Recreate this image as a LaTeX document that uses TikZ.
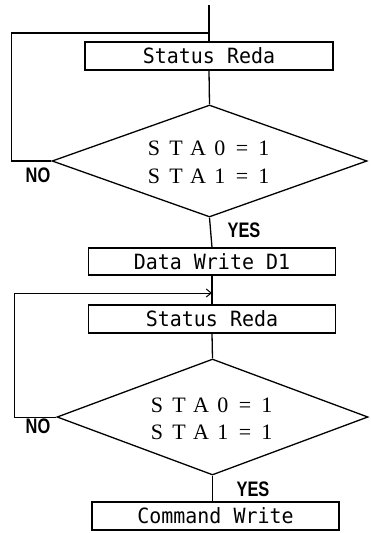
\documentclass[tikz,border=0pt]{standalone}
\usepackage{fontspec}
\usetikzlibrary{shapes.geometric,arrows.meta}
\newfontfamily\boxfont[FakeStretch=0.95]{DejaVu Sans Mono}
\newfontfamily\yesfont[FakeStretch=0.78]{Liberation Sans Bold}
\setmainfont{Liberation Serif}
\newcommand{\stach}[1]{\makebox[22pt]{#1}}
\begin{document}
\begin{tikzpicture}[x=1pt,y=-1pt,
  line width=1.3pt,
  procbox/.style={draw,rectangle,inner sep=0pt,minimum width=247pt,minimum height=27pt,
     font=\boxfont\fontsize{21}{23}\selectfont},
  decbox/.style={draw,diamond,inner sep=0pt},
  sta/.style={font=\fontsize{22}{24}\selectfont,inner sep=0pt},
  yn/.style={font=\yesfont\fontsize{21}{23}\selectfont,inner sep=0pt}]
\useasboundingbox (0,0) rectangle (370,533);
% first block
\coordinate (start) at (209,5);
\node[procbox,minimum width=248pt,minimum height=28pt] (b1) at (209,56) {Status Reda};
\node[decbox,minimum width=315pt,minimum height=112pt] (d1) at (209.5,161) {};
\node[sta] (t1a) at (209,148) {\stach{S}\stach{T}\stach{A}\stach{0}\stach{=}\stach{1}};
\node[sta] (t1b) at (209,176) {\stach{S}\stach{T}\stach{A}\stach{1}\stach{=}\stach{1}};
\coordinate (j1) at (209,33);
\draw (start) -- (b1.north);
\draw (b1.south) -- (d1.north);
\draw (d1.west) -- ++(-40,0) |- (j1);
\node[yn] (no1) at (38,175) {NO};
\node[yn] (yes1) at (244,230) {YES};
% second block
\node[procbox] (b2) at (212,261.5) {Data Write D1};
\node[procbox,minimum height=28pt] (b3) at (212,319) {Status Reda};
\node[decbox,minimum width=311pt,minimum height=116pt] (d2) at (212.5,417) {};
\node[sta] (t2a) at (212,405) {\stach{S}\stach{T}\stach{A}\stach{0}\stach{=}\stach{1}};
\node[sta] (t2b) at (212,432) {\stach{S}\stach{T}\stach{A}\stach{1}\stach{=}\stach{1}};
\node[procbox,minimum height=28pt] (b4) at (215.5,516) {Command Write};
\draw (d1.south) -- (b2.north);
\coordinate (j2) at (212,293);
\draw (b2.south) -- (b3.north);
\draw[-{Straight Barb[length=5pt,width=8pt]},line width=1pt] (d2.west) -- ++(-42,0) |- (j2);
\draw (b3.south) -- (d2.north);
\draw (d2.south) -- (d2.south |- b4.north);
\node[yn] (no2) at (38,426) {NO};
\node[yn] (yes2) at (253,489) {YES};
\end{tikzpicture}
\end{document}
